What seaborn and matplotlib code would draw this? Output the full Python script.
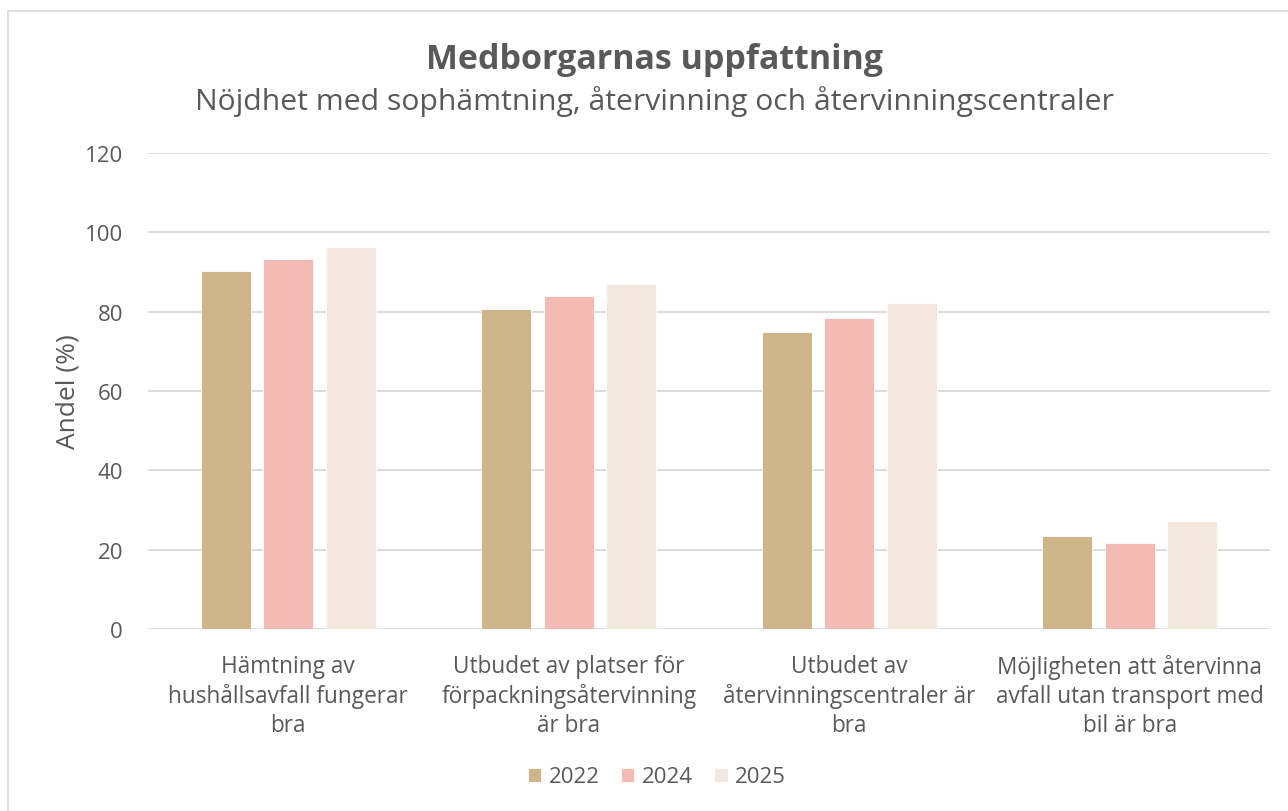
import matplotlib
matplotlib.use("Agg")
import matplotlib.pyplot as plt
import seaborn as sns
import pandas as pd
from matplotlib.patches import Rectangle

categories = [
    "Hämtning av\nhushållsavfall fungerar\nbra",
    "Utbudet av platser för\nförpackningsåtervinning\när bra",
    "Utbudet av\nåtervinningscentraler är\nbra",
    "Möjligheten att återvinna\navfall utan transport med\nbil är bra",
]
years = ["2022", "2024", "2025"]
values_2022 = [90.2, 80.6, 74.8, 23.4]
values_2024 = [93.4, 83.9, 78.4, 21.8]
values_2025 = [96.4, 86.9, 82.2, 27.2]
yticks = [0, 20, 40, 60, 80, 100, 120]

colors = ["#D1B58A", "#F4BAB4", "#F2E8DD"]
text_color = "#595959"

rows = []
for year, vals in zip(years, [values_2022, values_2024, values_2025]):
    for cat, v in zip(categories, vals):
        rows.append({"Kategori": cat, "År": year, "Andel": v})
df = pd.DataFrame(rows)

sns.set_theme(style="white")
plt.rcParams["font.family"] = ["Open Sans", "DejaVu Sans"]

W, H = 1288, 812
fig = plt.figure(figsize=(W / 100, H / 100), dpi=100)
ax = fig.add_axes([148 / W, (H - 630) / H, (1270 - 148) / W, (630 - 154) / H])

sns.barplot(data=df, x="Kategori", y="Andel", hue="År", order=categories,
            hue_order=years, palette=colors, saturation=1, width=0.668, gap=0.2,
            edgecolor="white", linewidth=0.6, ax=ax, zorder=3)

ax.set_ylim(0, 120)
ax.set_yticks(yticks)
ax.set_yticklabels([str(t) for t in yticks], fontsize=16, color=text_color)
ax.set_xlim(-0.5, len(categories) - 0.5)
ax.yaxis.grid(True, color="#D9D9D9", linewidth=1.3, zorder=0)
ax.set_axisbelow(True)
for s in ax.spines.values():
    s.set_visible(False)
ax.tick_params(axis="both", length=0)
ax.tick_params(axis="y", pad=18)
ax.tick_params(axis="x", pad=18)
plt.setp(ax.get_xticklabels(), fontsize=16.3, color=text_color,
         linespacing=1.27, ha="center")
ax.set_xlabel("")
ax.set_ylabel("Andel (%)", fontsize=19, color=text_color, labelpad=3)

leg_x = (657 - 148) / (1270 - 148)
leg = ax.legend(loc="center", bbox_to_anchor=(leg_x, (630 - 778) / (630 - 154)),
                ncol=3, frameon=False, fontsize=16, handlelength=0.6,
                handleheight=0.6, handletextpad=0.35, columnspacing=0.95)
for t in leg.get_texts():
    t.set_color(text_color)

fig.text(654 / W, 1 - 60 / H, "Medborgarnas uppfattning", ha="center", va="center",
         fontsize=24.5, fontweight="bold", color=text_color)
fig.text(654 / W, 1 - 102 / H,
         "Nöjdhet med sophämtning, återvinning och återvinningscentraler",
         ha="center", va="center", fontsize=21.7, color=text_color)

fig.patches.append(Rectangle((8 / W, -0.1), 1.2, 1 - 12 / H + 0.1,
                             transform=fig.transFigure, fill=False,
                             edgecolor="#D9D9D9", linewidth=1.2))

fig.savefig("out.png", dpi=100, facecolor="white")
